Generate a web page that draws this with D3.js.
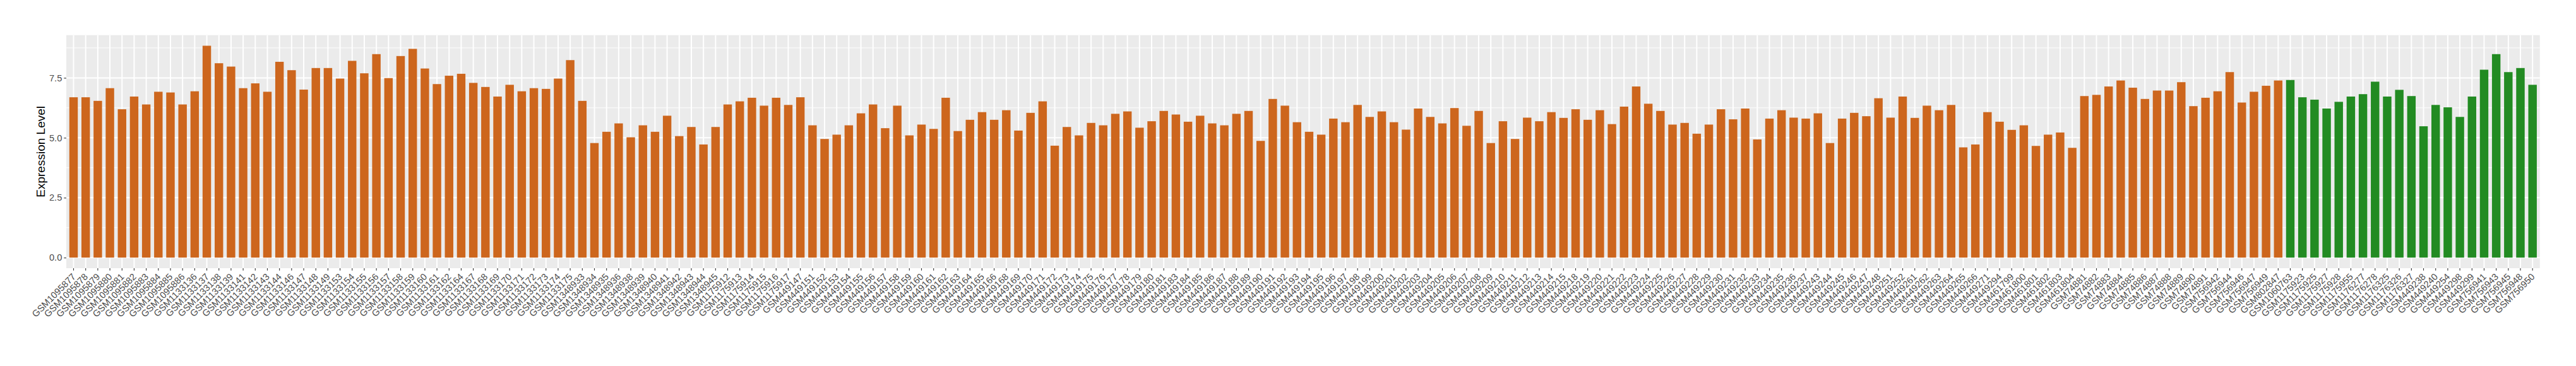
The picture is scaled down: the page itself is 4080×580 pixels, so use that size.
<!DOCTYPE html>
<html>
<head>
<meta charset="utf-8">
<script src="https://cdn.jsdelivr.net/npm/d3@7/dist/d3.min.js"></script>
<style>
  html, body { margin: 0; padding: 0; background: #fff; }
  svg { display: block; }
  text { font-family: "Liberation Sans", Arial, Helvetica, sans-serif; }
</style>
</head>
<body>
<script>
// ---------------- data ----------------
const samples = [
  "GSM1095877","GSM1095878","GSM1095879","GSM1095880","GSM1095881","GSM1095882","GSM1095883","GSM1095884","GSM1095885","GSM1095886",
  "GSM1133136","GSM1133137","GSM1133138","GSM1133139","GSM1133141","GSM1133142","GSM1133143","GSM1133144","GSM1133146","GSM1133147",
  "GSM1133148","GSM1133149","GSM1133153","GSM1133154","GSM1133155","GSM1133156","GSM1133157","GSM1133158","GSM1133159","GSM1133160",
  "GSM1133161","GSM1133162","GSM1133164","GSM1133167","GSM1133168","GSM1133169","GSM1133170","GSM1133171","GSM1133172","GSM1133173",
  "GSM1133174","GSM1133175","GSM1348933","GSM1348934","GSM1348935","GSM1348936","GSM1348938","GSM1348939","GSM1348940","GSM1348941",
  "GSM1348942","GSM1348943","GSM1348944","GSM1348945","GSM1175912","GSM1175913","GSM1175914","GSM1175915","GSM1175916","GSM1175917",
  "GSM449147","GSM449151","GSM449152","GSM449153","GSM449154","GSM449155","GSM449156","GSM449157","GSM449158","GSM449159",
  "GSM449160","GSM449161","GSM449162","GSM449163","GSM449164","GSM449165","GSM449166","GSM449168","GSM449169","GSM449170",
  "GSM449171","GSM449172","GSM449173","GSM449174","GSM449175","GSM449176","GSM449177","GSM449178","GSM449179","GSM449180",
  "GSM449181","GSM449183","GSM449184","GSM449185","GSM449186","GSM449187","GSM449188","GSM449189","GSM449190","GSM449191",
  "GSM449192","GSM449193","GSM449194","GSM449195","GSM449196","GSM449197","GSM449198","GSM449199","GSM449200","GSM449201",
  "GSM449202","GSM449203","GSM449204","GSM449205","GSM449206","GSM449207","GSM449208","GSM449209","GSM449210","GSM449211",
  "GSM449212","GSM449213","GSM449214","GSM449215","GSM449218","GSM449219","GSM449220","GSM449221","GSM449222","GSM449223",
  "GSM449224","GSM449225","GSM449226","GSM449227","GSM449228","GSM449229","GSM449230","GSM449231","GSM449232","GSM449233",
  "GSM449234","GSM449235","GSM449236","GSM449237","GSM449243","GSM449244","GSM449245","GSM449246","GSM449247","GSM449248",
  "GSM449251","GSM449252","GSM449261","GSM449262","GSM449263","GSM449264","GSM449265","GSM449266","GSM449271","GSM449294",
  "GSM461799","GSM461800","GSM461801","GSM461802","GSM461803","GSM461804","GSM74881","GSM74882","GSM74883","GSM74884",
  "GSM74885","GSM74886","GSM74887","GSM74888","GSM74889","GSM74890","GSM74891","GSM756942","GSM756944","GSM756946",
  "GSM756947","GSM756949","GSM802847",
  "GSM1060763","GSM1175923","GSM1175925","GSM1175927","GSM1175928","GSM1175955","GSM1176277",
  "GSM1176278","GSM1176325","GSM1176326","GSM1176327","GSM449238","GSM449240","GSM449254","GSM449298","GSM449299","GSM756941",
  "GSM756943","GSM756945","GSM756948","GSM756950"
];

const expression = [
  6.69,6.69,6.54,7.07,6.19,6.72,6.39,6.92,6.89,6.39,
  6.94,8.84,8.11,7.97,7.07,7.27,6.92,8.17,7.82,7.01,
  7.91,7.91,7.47,8.21,7.69,8.49,7.49,8.41,8.71,7.89,
  7.24,7.59,7.67,7.29,7.12,6.72,7.21,6.94,7.07,7.04,
  7.47,8.24,6.54,4.78,5.25,5.60,5.02,5.52,5.25,5.92,
  5.07,5.45,4.72,5.45,6.39,6.52,6.67,6.34,6.67,6.37,
  6.69,5.52,4.95,5.13,5.52,6.02,6.39,5.40,6.34,5.10,
  5.55,5.37,6.67,5.28,5.75,6.07,5.75,6.15,5.30,6.04,
  6.52,4.67,5.45,5.10,5.62,5.52,6.00,6.10,5.42,5.69,
  6.12,5.97,5.67,5.92,5.60,5.52,6.00,6.12,4.87,6.62,
  6.34,5.65,5.25,5.13,5.80,5.65,6.37,5.87,6.10,5.65,
  5.34,6.22,5.87,5.60,6.24,5.50,6.12,4.78,5.69,4.95,
  5.84,5.69,6.07,5.83,6.19,5.75,6.15,5.57,6.30,7.14,
  6.42,6.12,5.55,5.62,5.17,5.55,6.19,5.77,6.22,4.93,
  5.80,6.15,5.84,5.80,6.02,4.78,5.80,6.04,5.90,6.65,
  5.84,6.72,5.83,6.34,6.15,6.37,4.60,4.72,6.07,5.67,
  5.33,5.52,4.66,5.13,5.22,4.58,6.74,6.79,7.14,7.39,
  7.09,6.62,6.97,6.97,7.32,6.32,6.67,6.94,7.74,6.47,
  6.92,7.17,7.39,
  7.41,6.69,6.59,6.22,6.50,6.72,6.82,
  7.34,6.72,7.00,6.74,5.48,6.37,6.27,5.87,6.72,7.84,
  8.49,7.74,7.91,7.21
];

// group membership: first 183 samples in group A, remaining 21 in group B
const groups = ["A","B"];
const groupSizes = [183, 21];
const groupColors = ["#CD661D", "#228B22"];

const yTicks = [0, 2.5, 5, 7.5];
const yMinorTicks = [1.25, 3.75, 6.25, 8.75];
const yTitle = "Expression Level";

// ---------------- layout ----------------
const W = 4080, H = 580;
const panel = { left: 105, right: 4022.7, top: 55.7, bottom: 425 };

const groupOf = [];
groupSizes.forEach((n, gi) => { for (let k = 0; k < n; k++) groupOf.push(groups[gi]); });
const data = samples.map((s, i) => ({ s, v: expression[i], g: groupOf[i] }));

const svg = d3.select("body").append("svg").attr("width", W).attr("height", H);
svg.append("rect").attr("width", W).attr("height", H).attr("fill", "#fff");

const x = d3.scaleBand()
  .domain(samples)
  .range([panel.left, panel.right])
  .paddingInner(0.3)
  .paddingOuter(0.25);

const vmax = d3.max(expression);
const y = d3.scaleLinear()
  .domain([-0.05 * vmax, 1.05 * vmax])
  .range([panel.bottom, panel.top]);

const color = d3.scaleOrdinal().domain(groups).range(groupColors);

// panel background
svg.append("rect")
  .attr("x", panel.left).attr("y", panel.top)
  .attr("width", panel.right - panel.left).attr("height", panel.bottom - panel.top)
  .attr("fill", "#EBEBEB");

const grid = svg.append("g");
grid.selectAll("line.minor").data(yMinorTicks).join("line")
  .attr("x1", panel.left).attr("x2", panel.right)
  .attr("y1", d => y(d)).attr("y2", d => y(d))
  .attr("stroke", "#fff").attr("stroke-width", 1);
grid.selectAll("line.majory").data(yTicks).join("line")
  .attr("x1", panel.left).attr("x2", panel.right)
  .attr("y1", d => y(d)).attr("y2", d => y(d))
  .attr("stroke", "#fff").attr("stroke-width", 2);
grid.selectAll("line.majorx").data(samples).join("line")
  .attr("x1", d => x(d) + x.bandwidth() / 2).attr("x2", d => x(d) + x.bandwidth() / 2)
  .attr("y1", panel.top).attr("y2", panel.bottom)
  .attr("stroke", "#fff").attr("stroke-width", 2);

// bars
svg.append("g").selectAll("rect").data(data).join("rect")
  .attr("x", d => x(d.s))
  .attr("width", x.bandwidth())
  .attr("y", d => y(Math.max(0, d.v)))
  .attr("height", d => Math.abs(y(d.v) - y(0)))
  .attr("fill", d => color(d.g));

// y axis
const yAxis = d3.axisLeft(y).tickValues(yTicks).tickFormat(d3.format(".1f")).tickSize(3.7).tickPadding(3);
const gy = svg.append("g").attr("transform", `translate(${panel.left},0)`).call(yAxis);
gy.select(".domain").remove();
gy.selectAll(".tick line").attr("stroke", "#333333").attr("stroke-width", 1.1);
gy.selectAll(".tick text").attr("fill", "#4D4D4D").attr("font-size", "14.7px")
  .attr("font-family", "Liberation Sans, Arial, sans-serif");

// x axis
const xAxis = d3.axisBottom(x).tickSize(3.7).tickPadding(0);
const gx = svg.append("g").attr("transform", `translate(0,${panel.bottom})`).call(xAxis);
gx.select(".domain").remove();
gx.selectAll(".tick line").attr("stroke", "#333333").attr("stroke-width", 1.1);
gx.selectAll(".tick text")
  .attr("fill", "#4D4D4D").attr("font-size", "14.7px")
  .attr("font-family", "Liberation Sans, Arial, sans-serif")
  .attr("text-anchor", "end")
  .attr("y", 0).attr("dy", "0.71em")
  .attr("transform", "translate(-3,7) rotate(-45)");

// y title
svg.append("text")
  .attr("transform", `translate(70.5,${(panel.top + panel.bottom) / 2}) rotate(-90)`)
  .attr("text-anchor", "middle")
  .attr("font-size", "19px")
  .attr("fill", "#000")
  .text(yTitle);
</script>
</body>
</html>
